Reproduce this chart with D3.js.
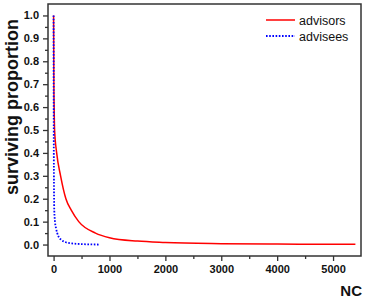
<!DOCTYPE html>
<html>
<head>
<meta charset="utf-8">
<script src="https://cdn.jsdelivr.net/npm/d3@7"></script>
<style>
  body { margin: 0; background: #fff; }
  text { font-family: "Liberation Sans", Arial, sans-serif; }
</style>
</head>
<body>
<div class="chart"></div>
<script>
// data
var advisorsNC = [0, 5, 10, 18, 55, 125, 220, 316, 450, 750, 1000, 1500, 2000, 3000, 4000, 5400];
var advisorsVal = [1.0, 0.7, 0.6, 0.5, 0.4, 0.3, 0.2, 0.15, 0.1, 0.05, 0.03, 0.015, 0.009, 0.004, 0.002, 0.001];
var adviseesNC = [0, 3, 6, 12, 25, 45, 65, 100, 140, 220, 330, 500, 810];
var adviseesVal = [1.0, 0.5, 0.3, 0.15, 0.1, 0.07, 0.05, 0.03, 0.02, 0.01, 0.005, 0.002, 0.0];
var xTicks = [0, 1000, 2000, 3000, 4000, 5000];
var yTicks = [0, 0.1, 0.2, 0.3, 0.4, 0.5, 0.6, 0.7, 0.8, 0.9, 1.0];
var seriesNames = ["advisors", "advisees"];

var width = 366, height = 298;
var margin = {top: 4, right: 5, bottom: 42, left: 48};

var svg = d3.select(".chart").append("svg")
    .attr("width", width)
    .attr("height", height);

var x = d3.scaleLinear().domain([-100, 5500]).range([margin.left, width - margin.right]);
var y = d3.scaleLinear().domain([-0.05, 1.05]).range([height - margin.bottom, margin.top]);

//minor ticks
var xMinor = d3.range(500, 5500, 1000);
var yMinor = d3.range(0.05, 1.0, 0.1);

var xAxis = svg.append("g")
    .attr("transform", "translate(0," + (height - margin.bottom) + ")")
    .call(d3.axisBottom(x).tickValues(xTicks).tickSize(5).tickPadding(4).tickFormat(d3.format("d")));
svg.append("g")
    .attr("transform", "translate(0," + (height - margin.bottom) + ")")
    .call(d3.axisBottom(x).tickValues(xMinor).tickSize(3).tickFormat(""));

var yAxis = svg.append("g")
    .attr("transform", "translate(" + margin.left + ",0)")
    .call(d3.axisLeft(y).tickValues(yTicks).tickSize(5).tickPadding(4).tickFormat(d3.format(".1f")));
svg.append("g")
    .attr("transform", "translate(" + margin.left + ",0)")
    .call(d3.axisLeft(y).tickValues(yMinor).tickSize(3).tickFormat(""));

svg.selectAll(".domain").remove();
svg.selectAll(".tick line").attr("stroke", "#333").attr("stroke-width", 1.3);
svg.selectAll(".tick text")
    .attr("font-size", 11)
    .attr("font-weight", "bold")
    .attr("fill", "#111")
    .style("font-family", "'Liberation Sans', Arial, sans-serif");

//frame
svg.append("rect")
    .attr("x", margin.left)
    .attr("y", margin.top)
    .attr("width", width - margin.left - margin.right)
    .attr("height", height - margin.top - margin.bottom)
    .attr("fill", "none")
    .attr("stroke", "#333")
    .attr("stroke-width", 1.5);

var line = d3.line()
    .x(function(d) { return x(d[0]); })
    .y(function(d) { return y(d[1]); })
    .curve(d3.curveMonotoneX);

var advisors = d3.zip(advisorsNC, advisorsVal);
var advisees = d3.zip(adviseesNC, adviseesVal);

svg.append("path")
    .datum(advisors)
    .attr("d", line)
    .attr("fill", "none")
    .attr("stroke", "#ff0000")
    .attr("stroke-width", 1.5);

svg.append("path")
    .datum(advisees)
    .attr("d", line)
    .attr("fill", "none")
    .attr("stroke", "#0000ff")
    .attr("stroke-width", 1.8)
    .attr("stroke-dasharray", "1.6,1.6");

//legend
var legend = svg.append("g");
var colors = ["#ff0000", "#0000ff"];
seriesNames.forEach(function(name, i) {
    var ly = 20 + i * 16;
    legend.append("line")
        .attr("x1", 266).attr("x2", 295)
        .attr("y1", ly).attr("y2", ly)
        .attr("stroke", colors[i])
        .attr("stroke-width", i ? 1.8 : 1.5)
        .attr("stroke-dasharray", i ? "1.6,1.6" : null);
    legend.append("text")
        .attr("x", 299)
        .attr("y", ly + 4.5)
        .attr("font-size", 12.5)
        .attr("fill", "#111")
        .text(name);
});

//axis titles
svg.append("text")
    .attr("transform", "translate(18,107) rotate(-90)")
    .attr("text-anchor", "middle")
    .attr("font-size", 18)
    .attr("font-weight", "bold")
    .attr("fill", "#111")
    .text("surviving proportion");

svg.append("text")
    .attr("x", 362)
    .attr("y", 296)
    .attr("text-anchor", "end")
    .attr("font-size", 15)
    .attr("font-weight", "bold")
    .attr("fill", "#111")
    .text("NC");
</script>
</body>
</html>
